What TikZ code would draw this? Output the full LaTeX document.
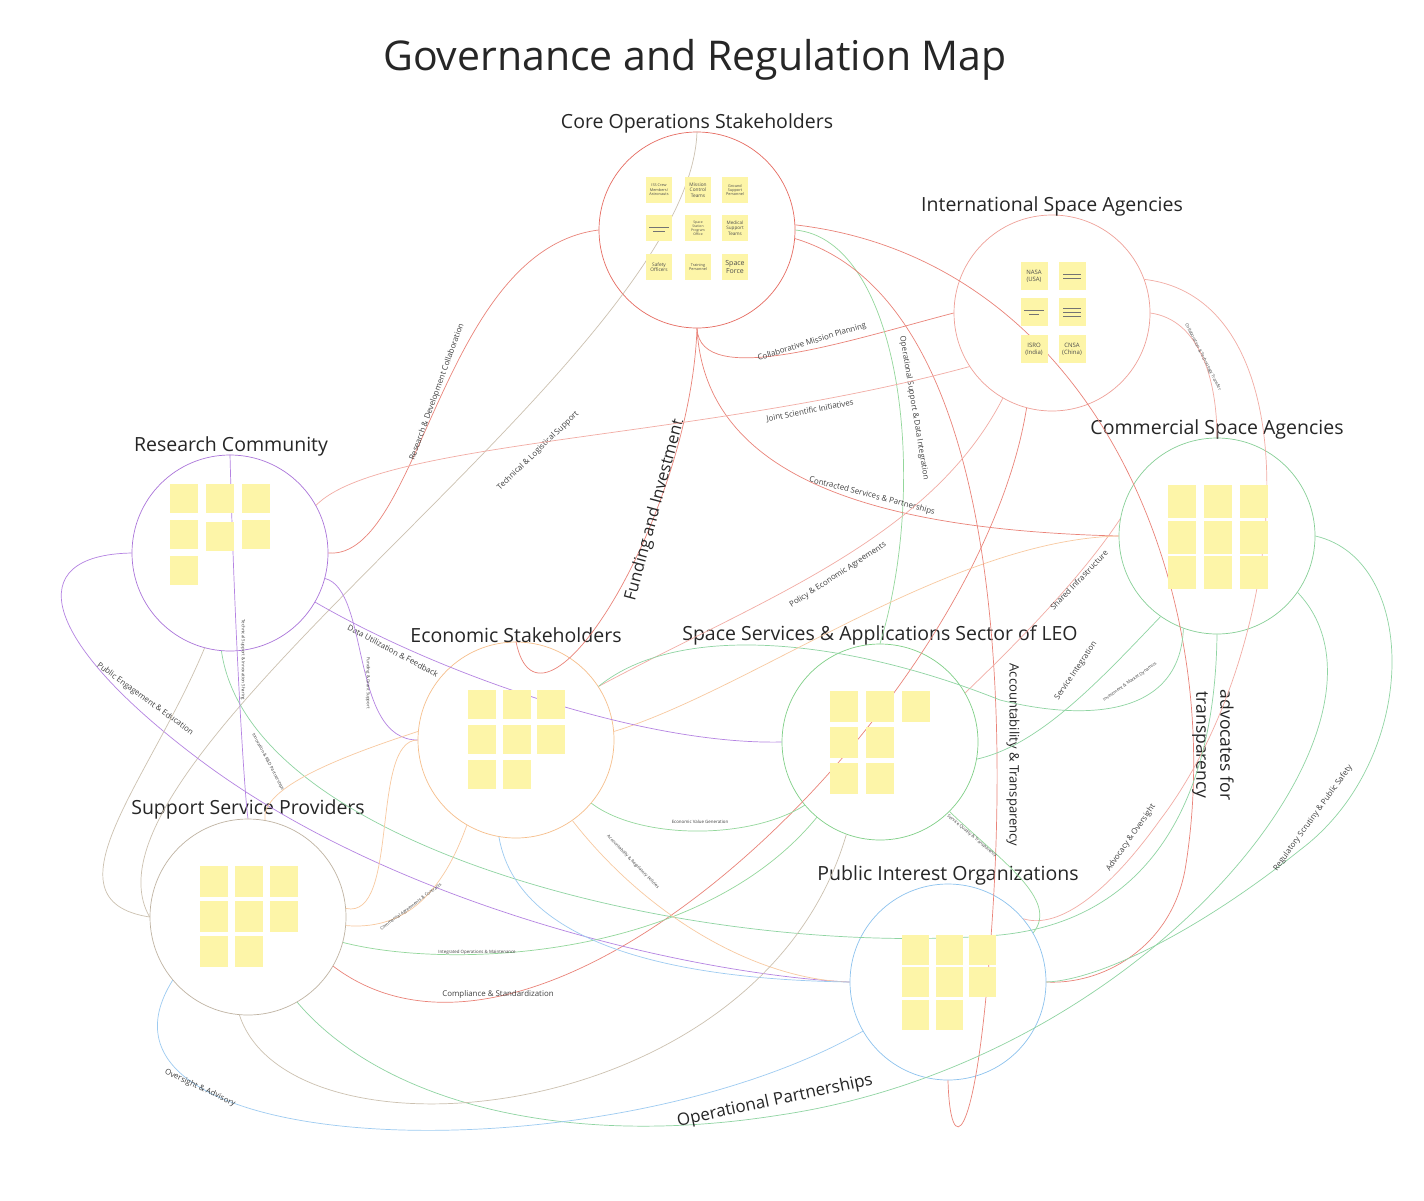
\documentclass[tikz,border=0pt]{standalone}
\usepackage{fontspec}
\setmainfont{Open Sans}
\definecolor{coreRed}{HTML}{E66A60}
\definecolor{intlRed}{HTML}{EFA098}
\definecolor{comGreen}{HTML}{86CF96}
\definecolor{resPurple}{HTML}{AA74DA}
\definecolor{ecoOrange}{HTML}{F6BE8A}
\definecolor{ssGreen}{HTML}{7FCF86}
\definecolor{supTan}{HTML}{BFB3A2}
\definecolor{piBlue}{HTML}{8CC2EE}
\definecolor{coreLine}{HTML}{EA8379}
\definecolor{intlLine}{HTML}{F2ACA4}
\definecolor{comLine}{HTML}{8FD4A2}
\definecolor{resLine}{HTML}{B583E2}
\definecolor{ecoLine}{HTML}{F8C9A0}
\definecolor{ssLine}{HTML}{93D79B}
\definecolor{supLine}{HTML}{CCC1B0}
\definecolor{piLine}{HTML}{9DCBF1}
\definecolor{noteYellow}{HTML}{FDF5A8}
\begin{document}
\begin{tikzpicture}[x=1pt,y=-1pt,
  hub/.style={draw=#1, circle, minimum size=196pt, inner sep=0pt, line width=0.7pt},
  grp/.style={font=\fontsize{19.5}{22}\selectfont, text=black!85, inner sep=0pt},
  sticky/.style={fill=noteYellow, minimum width=28pt, minimum height=29pt, inner sep=0pt, align=center, text=black!70},
  lnk/.style={draw=#1, line width=0.7pt},
  lbl/.style={font=\fontsize{7.9}{9}\selectfont, text=black!75, inner sep=0pt},
  tiny/.style={font=\fontsize{4.4}{5}\selectfont, text=black!75, inner sep=0pt},
  big/.style={font=\fontsize{16.5}{19}\selectfont, text=black!85, inner sep=0pt, align=center},
  note/.style={font=\fontsize{3.8}{4.4}\selectfont}]

\fill[white] (0,0) rectangle (1424,1200);

\node[font=\fontsize{41}{46}\selectfont, text=black!85] (title) at (695,60) {Governance and Regulation Map};

% groups
\node[hub=coreRed] (core) at (697,230) {};
\node[hub=intlRed] (intl) at (1052,313) {};
\node[hub=comGreen] (com) at (1217,536) {};
\node[hub=resPurple] (res) at (230,553) {};
\node[hub=ecoOrange] (eco) at (516,740) {};
\node[hub=ssGreen] (ss) at (880,742) {};
\node[hub=supTan] (sup) at (248,917) {};
\node[hub=piBlue] (pi) at (948,982) {};

\node[grp] (coreT) at (697,123) {Core Operations Stakeholders};
\node[grp] (intlT) at (1052,206) {International Space Agencies};
\node[grp] (comT) at (1217,429) {Commercial Space Agencies};
\node[grp] (resT) at (231,446) {Research Community};
\node[grp] (ecoT) at (516,635) {Economic Stakeholders};
\node[grp] (ssT) at (880,635) {Space Services \& Applications Sector of LEO};
\node[grp] (supT) at (248,809) {Support Service Providers};
\node[grp] (piT) at (948,875) {Public Interest Organizations};

% links from core operations
\draw[lnk=coreLine] (core.south) .. controls (700,390) and (850,340) .. (intl.west);
\node[lbl, rotate=17] at (812,342) {Collaborative Mission Planning};
\draw[lnk=coreLine] (res.east) .. controls (420,560) and (440,250) .. (core.west);
\node[lbl, rotate=70] at (437,392) {Research \& Development Collaboration};
\draw[lnk=supLine] (core.north) .. controls (690,360) and (60,760) .. (sup.west);
\node[lbl, rotate=44] at (538,451) {Technical \& Logistical Support};
\draw[lnk=coreLine] (core.south) .. controls (690,520) and (540,760) .. (eco.north);
\node[big, rotate=75] at (655,510) {Funding and Investment};
\draw[lnk=ssLine] (core.east) .. controls (900,240) and (930,480) .. (ss.north);
\node[lbl, rotate=-80.5] at (914,408) {Operational Support \& Data Integration};
\draw[lnk=coreLine] (core.south) .. controls (705,480) and (880,530) .. (com.west);
\node[lbl, rotate=-14.5] at (872,496) {Contracted Services \& Partnerships};
\draw[lnk=coreLine] (core.-5) .. controls (1000,300) and (1010,700) .. (990,950) .. controls (975,1150) and (950,1160) .. (pi.south);
\node[font=\fontsize{13}{15}\selectfont, text=black!85, rotate=-90] at (1013,755) {Accountability \& Transparency};
\draw[lnk=coreLine] (core.3) .. controls (1100,260) and (1230,600) .. (1185,870) .. controls (1170,950) and (1100,985) .. (pi.east);
\node[big, font=\fontsize{17.5}{24}\selectfont, rotate=-90] at (1213,745) {advocates for\\transparency};

% links from international agencies
\draw[lnk=intlLine] (res.29) .. controls (380,440) and (700,440) .. (intl.213);
\node[lbl, rotate=11] at (810,411) {Joint Scientific Initiatives};
\draw[lnk=intlLine] (intl.240) .. controls (930,540) and (760,600) .. (eco.33);
\node[lbl, rotate=33] at (838,575) {Policy \& Economic Agreements};
\draw[lnk=intlLine] (intl.0) .. controls (1200,320) and (1217,380) .. (com.north);
\node[tiny, rotate=-63] at (1203,357) {Collaboration \& Technology Transfer};
\draw[lnk=intlLine] (intl.20) .. controls (1320,300) and (1290,650) .. (1160,820) .. controls (1110,890) and (1060,930) .. (pi.40);
\node[lbl, rotate=55] at (1131,838) {Advocacy \& Oversight};
\draw[lnk=intlLine] (com.170) .. controls (1080,580) and (1010,650) .. (ss.30);
\node[lbl, rotate=46] at (1079,580) {Shared Infrastructure};
\draw[lnk=coreLine] (intl.255) .. controls (980,700) and (550,1130) .. (sup.-30);
\node[lbl] at (498,994) {Compliance \& Standardization};

% links from commercial agencies
\draw[lnk=comLine] (com.-35) .. controls (1420,720) and (1150,1060) .. (780,1115) .. controls (560,1150) and (380,1100) .. (sup.-60);
\node[big, font=\fontsize{17}{19}\selectfont, rotate=12] at (775,1101) {Operational Partnerships};
\draw[lnk=comLine] (com.east) .. controls (1420,560) and (1420,760) .. (1300,850) .. controls (1200,930) and (1100,980) .. (pi.east);
\node[lbl, rotate=54] at (1313,818) {Regulatory Scrutiny \& Public Safety};
\draw[lnk=comLine] (com.235) .. controls (1100,680) and (1040,745) .. (ss.-10);
\node[lbl, rotate=56] at (1076,671) {Service Integration};
\draw[lnk=comLine] (com.250) .. controls (1180,720) and (1080,720) .. (1000,700) .. controls (850,640) and (680,620) .. (eco.33);
\node[tiny, rotate=35] at (1130,682) {Investment \& Market Dynamics};
\draw[lnk=ecoLine] (com.west) .. controls (950,540) and (750,690) .. (eco.5);

% links from research community
\draw[lnk=comLine] (res.265) .. controls (250,850) and (700,960) .. (1000,935) .. controls (1150,920) and (1215,800) .. (com.south);
\node[tiny, rotate=-62] at (268,762) {Innovation \& R\&D Partnerships};
\draw[lnk=resLine] (res.north) .. controls (235,650) and (245,800) .. (sup.north);
\node[tiny, rotate=-90] at (243,660) {Technical Support \& Innovation Sharing};
\draw[lnk=resLine] (res.west) .. controls (20,555) and (40,640) .. (200,760) .. controls (400,910) and (700,975) .. (pi.west);
\node[lbl, rotate=-36] at (145,699) {Public Engagement \& Education};
\draw[lnk=resLine] (res.-30) .. controls (450,680) and (650,745) .. (ss.west);
\node[lbl, rotate=-28] at (393,651) {Data Utilization \& Feedback};
\draw[lnk=resLine] (res.-15) .. controls (370,590) and (350,740) .. (eco.west);
\node[tiny, rotate=-90] at (368,683) {Funding \& Grant Support};
\draw[lnk=supLine] (res.255) .. controls (150,780) and (40,900) .. (sup.west);

% links from economic stakeholders and services
\draw[lnk=ssLine] (eco.-40) .. controls (640,840) and (750,840) .. (ss.220);
\node[tiny] at (700,822) {Economic Value Generation};
\draw[lnk=ssLine] (ss.-45) .. controls (1000,860) and (1060,900) .. (pi.30);
\node[tiny, rotate=-40] at (972,836) {Service Quality \& Transparency};
\draw[lnk=ssLine] (ss.230) .. controls (700,960) and (450,970) .. (sup.-15);
\node[tiny] at (477,952) {Integrated Operations \& Maintenance};
\draw[lnk=ecoLine] (eco.west) .. controls (370,740) and (400,920) .. (sup.5);
\draw[lnk=ecoLine] (eco.240) .. controls (440,900) and (400,930) .. (sup.-5);
\node[tiny, rotate=37] at (411,907) {Commercial Agreements \& Contracts};
\draw[lnk=ecoLine] (eco.175) .. controls (330,760) and (260,790) .. (sup.80);
\draw[lnk=ecoLine] (eco.-55) .. controls (650,920) and (760,980) .. (pi.west);
\node[tiny, rotate=-46] at (633,862) {Accountability \& Regulatory Policies};
\draw[lnk=piLine] (eco.-100) .. controls (520,960) and (720,980) .. (pi.west);

% links from support providers
\draw[lnk=piLine] (pi.210) .. controls (600,1180) and (60,1160) .. (sup.220);
\node[lbl, rotate=-25] at (200,1088) {Oversight \& Advisory};
\draw[lnk=supLine] (sup.-95) .. controls (290,1170) and (760,1130) .. (ss.250);

% sticky notes
\node[sticky, minimum width=26pt, minimum height=26pt, note] (c1) at (659,190) {ISS Crew\\Members/\\Astronauts};
\node[sticky, minimum width=26pt, minimum height=26pt, note, font=\fontsize{4.8}{5.6}\selectfont] (c2) at (698,190) {Mission\\Control\\Teams};
\node[sticky, minimum width=26pt, minimum height=26pt, note] (c3) at (735,190) {Ground\\Support\\Personnel};
\node[sticky, minimum width=26pt, minimum height=26pt] (c4) at (659,228) {};
\node[sticky, minimum width=26pt, minimum height=26pt, note, font=\fontsize{3.4}{4}\selectfont] (c5) at (698,228) {Space\\Station\\Program\\Office};
\node[sticky, minimum width=26pt, minimum height=26pt, note, font=\fontsize{4.6}{5.4}\selectfont] (c6) at (735,228) {Medical\\Support\\Teams};
\node[sticky, minimum width=26pt, minimum height=26pt, note, font=\fontsize{4.8}{5.6}\selectfont] (c7) at (659,267) {Safety\\Officers};
\node[sticky, minimum width=26pt, minimum height=26pt, note] (c8) at (698,267) {Training\\Personnel};
\node[sticky, minimum width=26pt, minimum height=26pt, font=\fontsize{7}{8.5}\selectfont] (c9) at (735,267) {Space\\Force};
\draw[black!55, line width=0.5pt] ([shift={(-10,-1)}]c4.center) -- ++(20,0);
\draw[black!55, line width=0.5pt] ([shift={(-6,3)}]c4.center) -- ++(12,0);

\node[sticky, minimum width=27pt, minimum height=28pt, font=\fontsize{6}{7.2}\selectfont] (i1) at (1034,276) {NASA\\(USA)};
\node[sticky, minimum width=27pt, minimum height=28pt] (i2) at (1072,276) {};
\node[sticky, minimum width=27pt, minimum height=28pt] (i3) at (1034,312) {};
\node[sticky, minimum width=27pt, minimum height=28pt] (i4) at (1072,312) {};
\node[sticky, minimum width=27pt, minimum height=28pt, font=\fontsize{6}{7.2}\selectfont] (i5) at (1034,349) {ISRO\\(India)};
\node[sticky, minimum width=27pt, minimum height=28pt, font=\fontsize{6}{7.2}\selectfont] (i6) at (1072,349) {CNSA\\(China)};
\draw[black!55, line width=0.5pt] ([shift={(-9,-2)}]i2.center) -- ++(18,0);
\draw[black!55, line width=0.5pt] ([shift={(-9,2)}]i2.center) -- ++(18,0);
\draw[black!55, line width=0.5pt] ([shift={(-10,-2)}]i3.center) -- ++(20,0);
\draw[black!55, line width=0.5pt] ([shift={(-5,2)}]i3.center) -- ++(10,0);
\draw[black!55, line width=0.5pt] ([shift={(-9,-4)}]i4.center) -- ++(18,0);
\draw[black!55, line width=0.5pt] ([shift={(-9,0)}]i4.center) -- ++(18,0);
\draw[black!55, line width=0.5pt] ([shift={(-9,4)}]i4.center) -- ++(18,0);

\foreach \x/\y [count=\i] in {184/498,220/498,256/498,184/534,220/536,256/534,184/570}
  \node[sticky] (r\i) at (\x,\y) {};
\foreach \x/\y [count=\i] in {482/704,517/704,551/704,482/739,517/739,551/739,482/774,517/774}
  \node[sticky] (e\i) at (\x,\y) {};
\foreach \x/\y [count=\i] in {844/706,880/706,916/706,844/742,880/742,844/778,880/778}
  \node[sticky, minimum height=31pt] (s\i) at (\x,\y) {};
\foreach \x/\y [count=\i] in {1182/501,1218/501,1254/501,1182/537,1218/537,1254/537,1182/572,1218/572,1254/572}
  \node[sticky, minimum height=33pt] (m\i) at (\x,\y) {};
\foreach \x/\y [count=\i] in {214/881,249/881,284/881,214/916,249/916,284/916,214/951,249/951}
  \node[sticky, minimum height=31pt] (p\i) at (\x,\y) {};
\foreach \x/\y [count=\i] in {915/950,949/950,982/950,915/982,949/982,982/982,915/1015,949/1015}
  \node[sticky, minimum width=27pt, minimum height=30pt] (o\i) at (\x,\y) {};
\end{tikzpicture}
\end{document}
